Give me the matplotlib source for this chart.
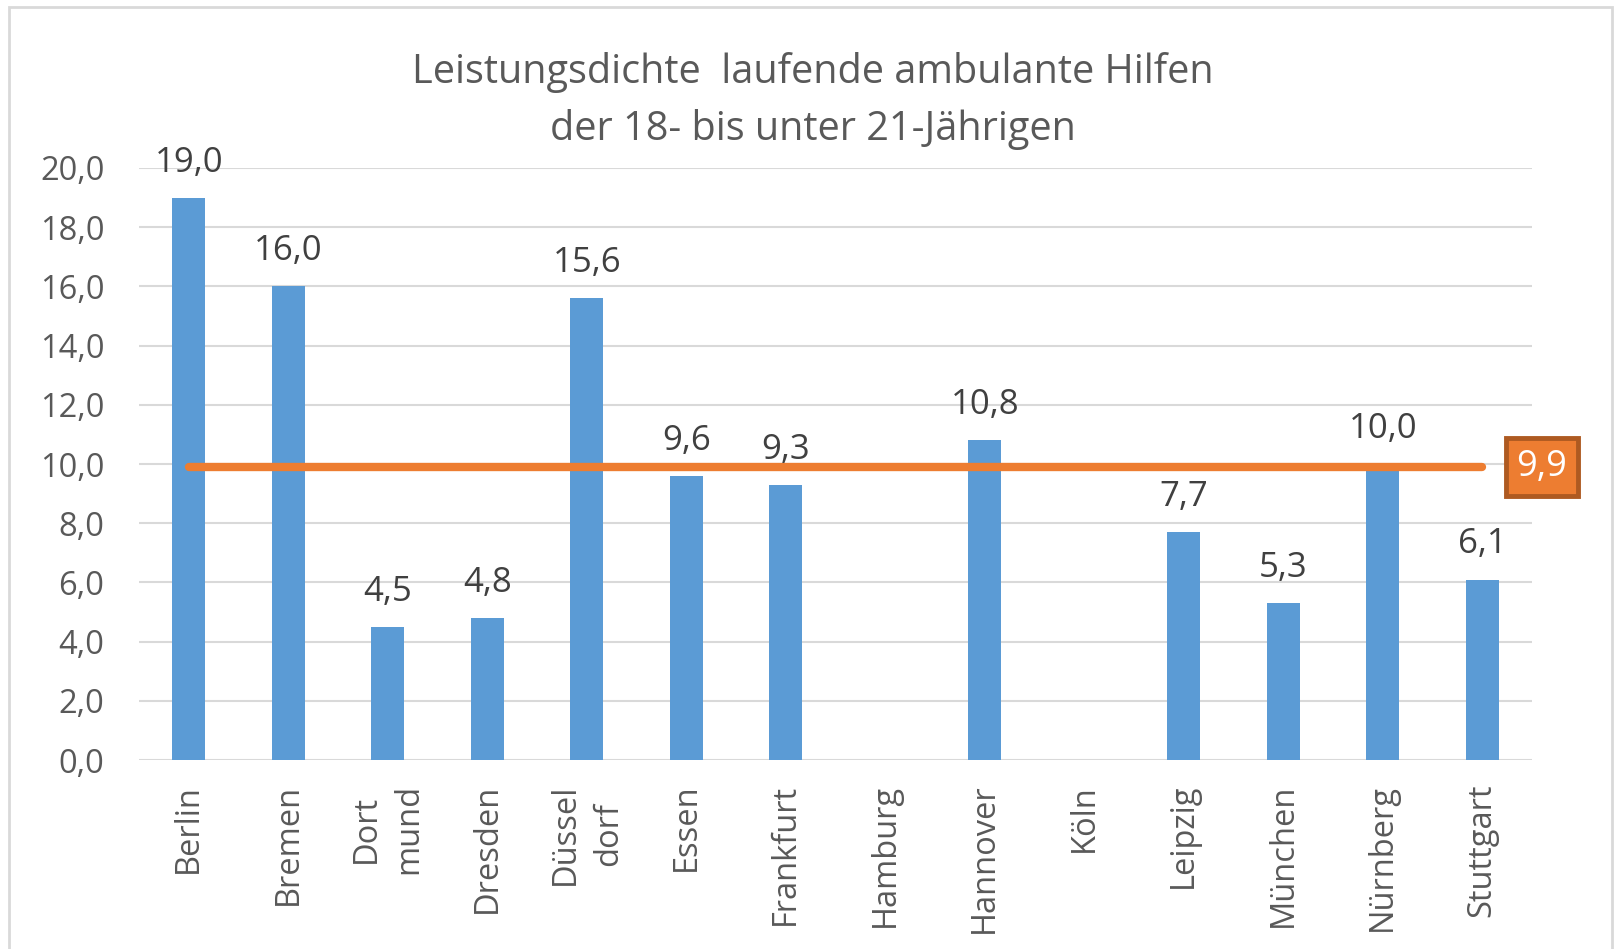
import numpy as np
import matplotlib
matplotlib.use("Agg")
import matplotlib.pyplot as plt
from matplotlib.patches import Rectangle

plt.rcParams['font.family'] = ['Open Sans', 'DejaVu Sans']

staedte = ['Berlin', 'Bremen', 'Dort\nmund', 'Dresden', 'Düssel\ndorf', 'Essen',
           'Frankfurt', 'Hamburg', 'Hannover', 'Köln', 'Leipzig', 'München',
           'Nürnberg', 'Stuttgart']
werte = [19.0, 16.0, 4.5, 4.8, 15.6, 9.6, 9.3, np.nan, 10.8, np.nan, 7.7, 5.3, 10.0, 6.1]
mittel = 9.9
yticks = [0, 2, 4, 6, 8, 10, 12, 14, 16, 18, 20]

blau = '#5B9BD5'
orange = '#ED7D31'
grau = '#595959'

fig = plt.figure(figsize=(16.16, 9.49), dpi=100)
ax = fig.add_axes([0.086, 0.199, 0.862, 0.624])

x = np.arange(len(staedte))
ax.bar(x, werte, width=0.33, color=blau, zorder=2)

for xi, v in zip(x, werte):
    if np.isnan(v):
        continue
    ax.annotate(f'{v:.1f}'.replace('.', ','), (xi, v), xytext=(0, 13),
                textcoords='offset points', ha='center', va='bottom',
                fontsize=25, color='#404040', zorder=4)

# Durchschnittslinie
ax.plot([x[0], x[-1]], [mittel, mittel], color=orange, lw=6,
        solid_capstyle='round', zorder=3)
ax.annotate(f'{mittel:.1f}'.replace('.', ','), (x[-1], mittel), xytext=(43, 0),
            textcoords='offset points', ha='center', va='center',
            fontsize=26, color='white', annotation_clip=False, zorder=5,
            bbox=dict(boxstyle='square,pad=0.3', fc=orange, ec='#AE5A21', lw=3.5))

ax.set_xlim(-0.5, len(staedte) - 0.5)
ax.set_ylim(0, 20)
ax.set_yticks(yticks)
ax.set_yticklabels([f'{t:.1f}'.replace('.', ',') for t in yticks])
ax.set_xticks(x)
ax.set_xticklabels(staedte, rotation=90, ha='center', va='top',
                   multialignment='center', linespacing=1.4)
ax.tick_params(axis='y', length=0, pad=25, labelsize=23.5, labelcolor=grau)
ax.tick_params(axis='x', length=0, pad=17, labelsize=23.5, labelcolor=grau)
ax.grid(axis='y', color='#D9D9D9', lw=1.5, zorder=0)
ax.set_axisbelow(True)
for s in ax.spines.values():
    s.set_visible(False)

fig.text(0.503, 0.924, 'Leistungsdichte  laufende ambulante Hilfen',
         ha='center', va='center', fontsize=28.5, color=grau)
fig.text(0.503, 0.864, 'der 18- bis unter 21-Jährigen',
         ha='center', va='center', fontsize=28.5, color=grau)

fig.patches.append(Rectangle((9 / 1616, -0.05), (1612 - 9) / 1616, 1 - 7 / 949 + 0.05,
                             transform=fig.transFigure, fill=False,
                             ec='#D9D9D9', lw=2))

fig.savefig('out.png', dpi=100)
